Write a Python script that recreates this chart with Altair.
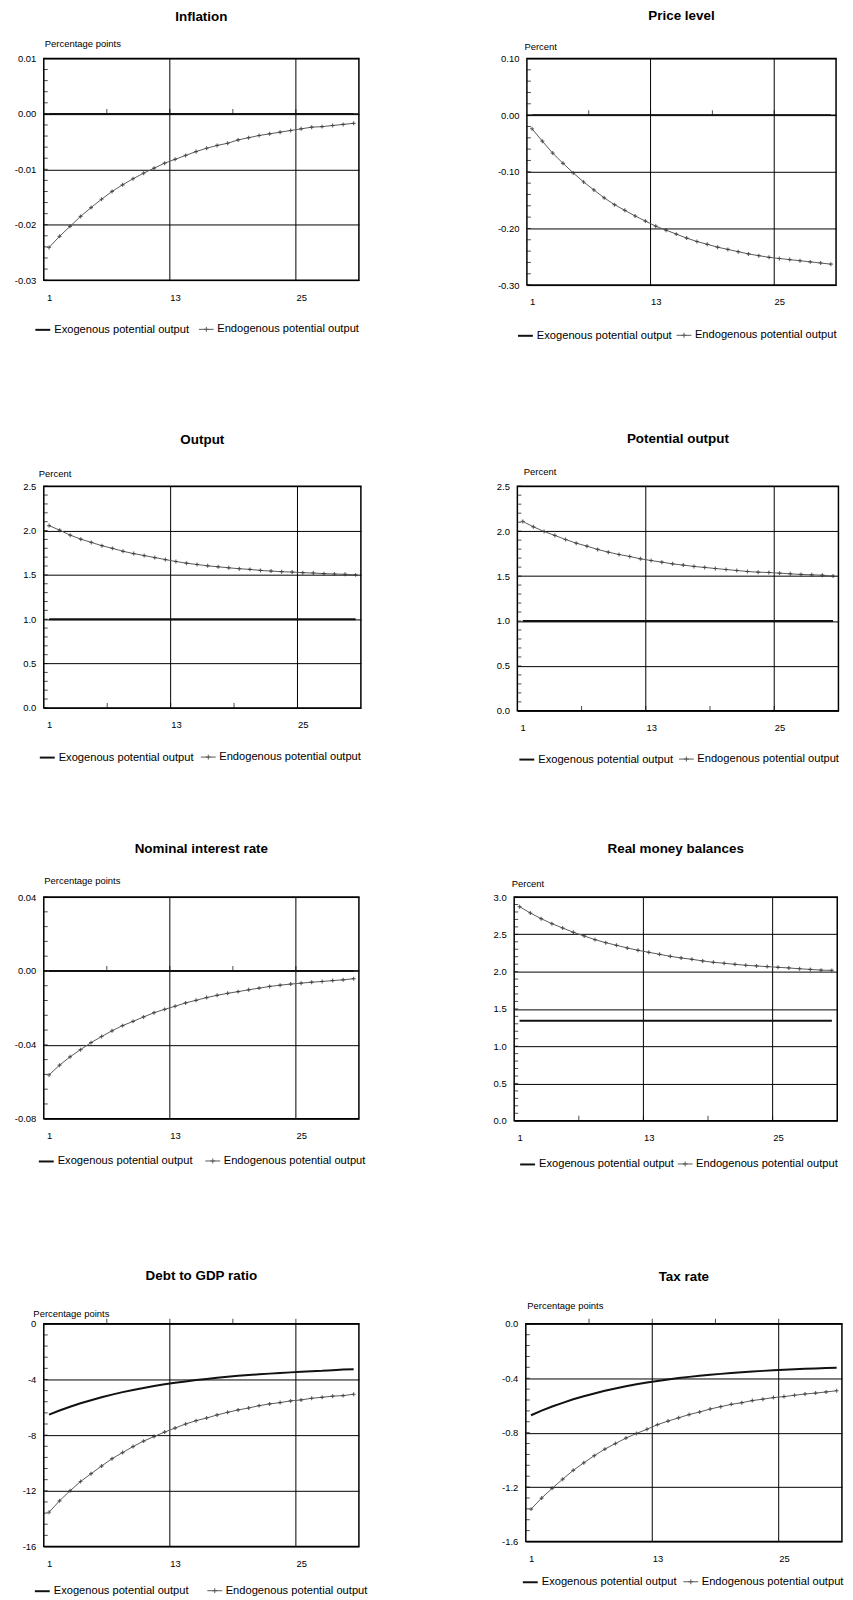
import altair as alt
import numpy as np
import pandas as pd

EXO = "Exogenous potential output"
ENDO = "Endogenous potential output"
FONT = "Liberation Sans, Arial, sans-serif"

periods = list(range(1, 31))
x_tick_labels = [1, 13, 25]
x_grid = [12.5, 24.5]
x_minor = [6.5, 12.5, 18.5, 24.5]

# ---- series ----
inflation_exo = [0.0] * 30
inflation_endo = [-0.0241, -0.0221, -0.0203, -0.0185, -0.0169, -0.0154, -0.0140, -0.0128, -0.0117, -0.0107,
                  -0.0098, -0.0089, -0.0082, -0.0075, -0.0068, -0.0062, -0.0057, -0.0053, -0.0047, -0.0043,
                  -0.0039, -0.0036, -0.0033, -0.0030, -0.0027, -0.0024, -0.0023, -0.0021, -0.0019, -0.0017]

price_exo = [0.0] * 30
price_endo = [-0.024, -0.046, -0.067, -0.085, -0.102, -0.118, -0.132, -0.146, -0.158, -0.168,
              -0.178, -0.187, -0.196, -0.203, -0.210, -0.217, -0.223, -0.228, -0.233, -0.237,
              -0.241, -0.245, -0.248, -0.251, -0.253, -0.255, -0.257, -0.259, -0.261, -0.263]

output_exo = [1.0] * 30
output_endo = [2.056, 2.004, 1.948, 1.903, 1.866, 1.829, 1.799, 1.766, 1.740, 1.718,
               1.695, 1.673, 1.651, 1.632, 1.617, 1.602, 1.591, 1.580, 1.569, 1.562,
               1.550, 1.543, 1.536, 1.532, 1.525, 1.521, 1.514, 1.510, 1.507, 1.500]

potential_exo = [1.0] * 30
potential_endo = [2.108, 2.048, 1.996, 1.952, 1.907, 1.866, 1.833, 1.796, 1.766, 1.740,
                  1.718, 1.692, 1.673, 1.655, 1.636, 1.622, 1.607, 1.596, 1.584, 1.573,
                  1.562, 1.551, 1.543, 1.540, 1.532, 1.525, 1.518, 1.514, 1.510, 1.500]

nominal_exo = [0.0] * 30
nominal_endo = [-0.0563, -0.0510, -0.0465, -0.0426, -0.0388, -0.0355, -0.0324, -0.0296, -0.0273, -0.0249,
                -0.0226, -0.0208, -0.0191, -0.0173, -0.0159, -0.0144, -0.0132, -0.0121, -0.0112, -0.0102,
                -0.0093, -0.0084, -0.0077, -0.0071, -0.0066, -0.0061, -0.0057, -0.0052, -0.0048, -0.0042]

money_exo = [1.34] * 30
money_endo = [2.871, 2.786, 2.710, 2.643, 2.585, 2.527, 2.478, 2.429, 2.388, 2.353,
              2.317, 2.286, 2.259, 2.232, 2.205, 2.183, 2.165, 2.143, 2.125, 2.112,
              2.098, 2.085, 2.076, 2.067, 2.058, 2.049, 2.038, 2.029, 2.020, 2.016]

debt_exo = [-6.53, -6.23, -5.96, -5.71, -5.49, -5.28, -5.09, -4.91, -4.75, -4.61,
            -4.47, -4.35, -4.24, -4.14, -4.04, -3.96, -3.88, -3.81, -3.74, -3.68,
            -3.63, -3.58, -3.53, -3.49, -3.45, -3.41, -3.38, -3.33, -3.28, -3.26]
debt_endo = [-13.54, -12.72, -12.00, -11.33, -10.77, -10.22, -9.69, -9.25, -8.82, -8.43,
             -8.10, -7.78, -7.49, -7.20, -6.96, -6.77, -6.55, -6.36, -6.19, -6.05,
             -5.88, -5.76, -5.66, -5.54, -5.47, -5.35, -5.28, -5.20, -5.16, -5.06]

tax_exo = [-0.672, -0.638, -0.608, -0.581, -0.555, -0.532, -0.512, -0.492, -0.475, -0.459,
           -0.445, -0.432, -0.420, -0.409, -0.399, -0.390, -0.382, -0.374, -0.368, -0.361,
           -0.356, -0.351, -0.346, -0.342, -0.338, -0.334, -0.331, -0.328, -0.325, -0.323]
tax_endo = [-1.362, -1.281, -1.209, -1.142, -1.077, -1.022, -0.969, -0.921, -0.880, -0.840,
            -0.806, -0.775, -0.741, -0.715, -0.691, -0.667, -0.648, -0.626, -0.609, -0.592,
            -0.580, -0.564, -0.554, -0.542, -0.535, -0.525, -0.516, -0.509, -0.501, -0.492]

PANELS = [
    dict(title="Inflation", unit="Percentage points", ymin=-0.03, ymax=0.01, step=0.01, minor=0.002, fmt=".2f",
         exo=inflation_exo, endo=inflation_endo, W=317, H=223, ux=0.5, ugap=12, toff=15,
         lx1=-9.5, lx2=155.5, ldy=49, pad=0),
    dict(title="Price level", unit="Percent", ymin=-0.30, ymax=0.10, step=0.10, minor=0.02, fmt=".2f",
         exo=price_exo, endo=price_endo, W=311, H=228, ux=-3, ugap=9, toff=19,
         lx1=-10, lx2=150, ldy=50, pad=15),
    dict(title="Output", unit="Percent", ymin=0.0, ymax=2.5, step=0.5, minor=0.1, fmt=".1f",
         exo=output_exo, endo=output_endo, W=319, H=223, ux=-5.5, ugap=10, toff=22,
         lx1=-5, lx2=157.5, ldy=49, pad=0),
    dict(title="Potential output", unit="Percent", ymin=0.0, ymax=2.5, step=0.5, minor=0.1, fmt=".1f",
         exo=potential_exo, endo=potential_endo, W=323, H=226, ux=6, ugap=11.5, toff=21,
         lx1=1, lx2=162, ldy=48, pad=0),
    dict(title="Nominal interest rate", unit="Percentage points", ymin=-0.08, ymax=0.04, step=0.04, minor=0.008,
         fmt=".2f", exo=nominal_exo, endo=nominal_endo, W=317, H=223, ux=0, ugap=14, toff=20,
         lx1=-6, lx2=162, ldy=42, pad=0),
    dict(title="Real money balances", unit="Percent", ymin=0.0, ymax=3.0, step=0.5, minor=0.1, fmt=".1f",
         exo=money_exo, endo=money_endo, W=325, H=225, ux=-3, ugap=11, toff=23,
         lx1=5, lx2=164, ldy=43, pad=22),
    dict(title="Debt to GDP ratio", unit="Percentage points", ymin=-16, ymax=0, step=4, minor=0.8, fmt="d",
         exo=debt_exo, endo=debt_endo, W=317, H=224, ux=-11, ugap=7, toff=27,
         lx1=-10, lx2=164, ldy=44, pad=0),
    dict(title="Tax rate", unit="Percentage points", ymin=-1.6, ymax=0.0, step=0.4, minor=0.08, fmt=".1f",
         exo=tax_exo, endo=tax_endo, W=318, H=219, ux=1, ugap=15, toff=18,
         lx1=-4, lx2=158, ldy=40, pad=0),
]

ROW_SPACING = [136, 133.4, 126.2, 131.9]


def panel(i, c):
    major = list(np.round(np.arange(c["ymin"], c["ymax"] + c["step"] / 2, c["step"]), 6))
    minor = list(np.round(np.arange(c["ymin"], c["ymax"] + c["minor"] / 2, c["minor"]), 6))
    xs = alt.Scale(domain=[0.5, 30.5], nice=False, zero=False)
    ys = alt.Scale(domain=[c["ymin"], c["ymax"]], nice=False, zero=False)
    xaxis = alt.Axis(values=x_tick_labels, grid=False, ticks=False, domain=False, labelPadding=12,
                     labelFont=FONT, labelFontSize=9.5, labelColor="#000", title=None, labelFlush=False)
    yaxis = alt.Axis(values=major, format=c["fmt"], labelExpr="replace(datum.label, '\u2212', '-')",
                     grid=True, gridColor="#000", gridWidth=1,
                     ticks=False, domain=False, labelPadding=8, labelFont=FONT, labelFontSize=9.5,
                     labelColor="#000", title=c["unit"], titleAngle=0, titleAlign="left",
                     titleBaseline="alphabetic", titleX=c["ux"], titleY=-c["ugap"], titleFont=FONT,
                     titleFontSize=9.5, titleFontWeight="normal", titleColor="#000")

    def X():
        return alt.X("p:Q", scale=xs, axis=xaxis)

    def Y():
        return alt.Y("v:Q", scale=ys, axis=yaxis)

    f1 = f"sa{i}"
    f2 = f"sb{i}"
    df_exo = pd.DataFrame({"p": periods, "v": c["exo"], f1: EXO})
    df_endo = pd.DataFrame({"p": periods, "v": c["endo"], f2: ENDO})

    layers = []
    layers.append(alt.Chart(pd.DataFrame({"p": x_grid})).mark_rule(color="#000", strokeWidth=1)
                  .encode(x=X()))
    if c["ymin"] < 0 < c["ymax"]:
        layers.append(alt.Chart(pd.DataFrame({"v": [0.0]})).mark_rule(color="#000", strokeWidth=1.3)
                      .encode(y=Y()))
    layers.append(alt.Chart(pd.DataFrame({"p": x_minor, "v": [0.0] * len(x_minor)}))
                  .mark_tick(orient="vertical", size=5, thickness=1, color="#000", yOffset=-2.5)
                  .encode(x=X(), y=Y()))
    layers.append(alt.Chart(pd.DataFrame({"p": [0.5] * len(minor), "v": minor}))
                  .mark_tick(orient="horizontal", size=4, thickness=1, color="#000", xOffset=2)
                  .encode(x=X(), y=Y()))
    ly = c["H"] + c["ldy"] - 7.5
    P = c["pad"]
    layers.append(alt.Chart(df_exo).mark_line(strokeWidth=2).encode(
        x=X(), y=Y(),
        color=alt.Color(f"{f1}:N", scale=alt.Scale(domain=[EXO], range=["#111111"]),
                        legend=alt.Legend(title=None, orient="none", legendX=c["lx1"] - P, legendY=ly - P,
                                          symbolType="stroke", symbolSize=225, symbolStrokeWidth=2,
                                          labelFont=FONT, labelFontSize=11.2, labelColor="#000",
                                          labelOffset=3, padding=P, labelLimit=400))))
    layers.append(alt.Chart(df_endo).mark_line(strokeWidth=1).encode(
        x=X(), y=Y(),
        stroke=alt.Stroke(f"{f2}:N", scale=alt.Scale(domain=[ENDO], range=["#5a5a5a"]),
                          legend=alt.Legend(title=None, orient="none", legendX=c["lx2"],
                                            legendY=ly,
                                            symbolType="M-1,0H1M0,-0.33V0.33M-0.33,0H0.33",
                                            symbolSize=225, symbolStrokeWidth=1,
                                            labelFont=FONT, labelFontSize=11.2, labelColor="#000",
                                            labelOffset=3, padding=0, labelLimit=400))))
    layers.append(alt.Chart(df_endo).mark_point(shape="M-1,0H1M0,-1V1", size=16, filled=False,
                                                strokeWidth=1.2, color="#2a2a2a")
                  .encode(x=X(), y=Y()))

    return alt.layer(*layers).properties(
        width=c["W"], height=c["H"],
        title=alt.TitleParams(text=c["title"], font=FONT, fontSize=13.5, fontWeight="bold",
                              anchor="middle", frame="group", offset=c["toff"], color="#000")
    ).resolve_scale(color="independent", stroke="independent"
    ).resolve_legend(color="independent", stroke="independent")


rows = []
for r in range(4):
    rows.append(alt.hconcat(panel(2 * r, PANELS[2 * r]), panel(2 * r + 1, PANELS[2 * r + 1]),
                            spacing=ROW_SPACING[r])
                .resolve_scale(color="independent", stroke="independent")
                .resolve_legend(color="independent", stroke="independent"))

chart = alt.vconcat(*rows, spacing=74.3).resolve_scale(
    color="independent", stroke="independent"
).resolve_legend(color="independent", stroke="independent").properties(
    padding={"left": 5, "top": -5, "right": 0, "bottom": 0}
).configure_view(stroke="#000", strokeWidth=1.5)

chart.save("out.html", embed_options={"renderer": "svg", "actions": False})
